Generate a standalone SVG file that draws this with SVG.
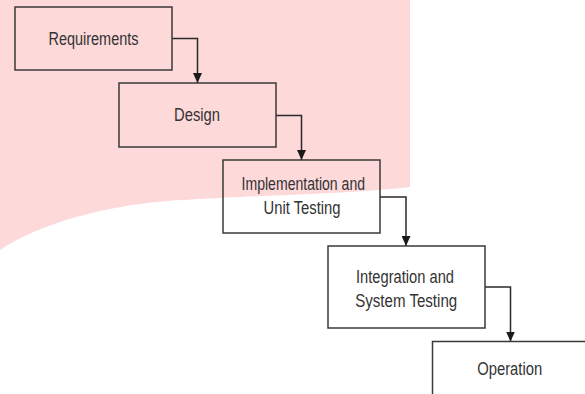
<svg xmlns="http://www.w3.org/2000/svg" width="585" height="394" viewBox="0 0 585 394">
  <style>
    .box { fill: none; stroke: #3a3a3a; stroke-width: 1.5; }
    .lbl { font-family: "Liberation Sans", Arial, sans-serif; font-size: 17.5px; fill: #333333; text-anchor: middle; }
    .conn { fill: none; stroke: #2a2a2a; stroke-width: 1.5; }
  </style>
  <defs>
    <marker id="arrow" markerUnits="userSpaceOnUse" markerWidth="10" markerHeight="9" refX="10" refY="4.5" orient="auto">
      <path d="M0,0 L10,4.5 L0,9 Z" fill="#1a1a1a"/>
    </marker>
  </defs>
  <rect width="585" height="394" fill="#ffffff"/>
  <path d="M0,0 H410 V187 C330,196 200,196 140,204 C80,212 30,230 0,250 Z" fill="#fdd9da"/>

  <g id="connectors">
    <path class="conn" d="M172,38.5 H197.5 V83" marker-end="url(#arrow)"/>
    <path class="conn" d="M276,115.5 H301.5 V160" marker-end="url(#arrow)"/>
    <path class="conn" d="M380,197 H406 V246" marker-end="url(#arrow)"/>
    <path class="conn" d="M485,287 H510.5 V341.5" marker-end="url(#arrow)"/>
  </g>

  <g id="requirements">
    <rect class="box" x="15" y="7" width="157" height="63"/>
    <text class="lbl" x="93.5" y="44.7" textLength="90" lengthAdjust="spacingAndGlyphs">Requirements</text>
  </g>
  <g id="design">
    <rect class="box" x="119" y="83" width="157" height="64"/>
    <text class="lbl" x="197" y="120.7" textLength="46" lengthAdjust="spacingAndGlyphs">Design</text>
  </g>
  <g id="implementation">
    <rect class="box" x="223" y="160" width="157" height="73"/>
    <text class="lbl" x="303.3" y="190" textLength="123.5" lengthAdjust="spacingAndGlyphs">Implementation and</text>
    <text class="lbl" x="302" y="214.3" textLength="77" lengthAdjust="spacingAndGlyphs">Unit Testing</text>
  </g>
  <g id="integration">
    <rect class="box" x="328" y="246" width="157" height="82"/>
    <text class="lbl" x="405" y="282.7" textLength="98" lengthAdjust="spacingAndGlyphs">Integration and</text>
    <text class="lbl" x="406.2" y="306.7" textLength="102" lengthAdjust="spacingAndGlyphs">System Testing</text>
  </g>
  <g id="operation">
    <rect class="box" x="432.5" y="341.5" width="157" height="70"/>
    <text class="lbl" x="509.7" y="375" textLength="65" lengthAdjust="spacingAndGlyphs">Operation</text>
  </g>
</svg>
